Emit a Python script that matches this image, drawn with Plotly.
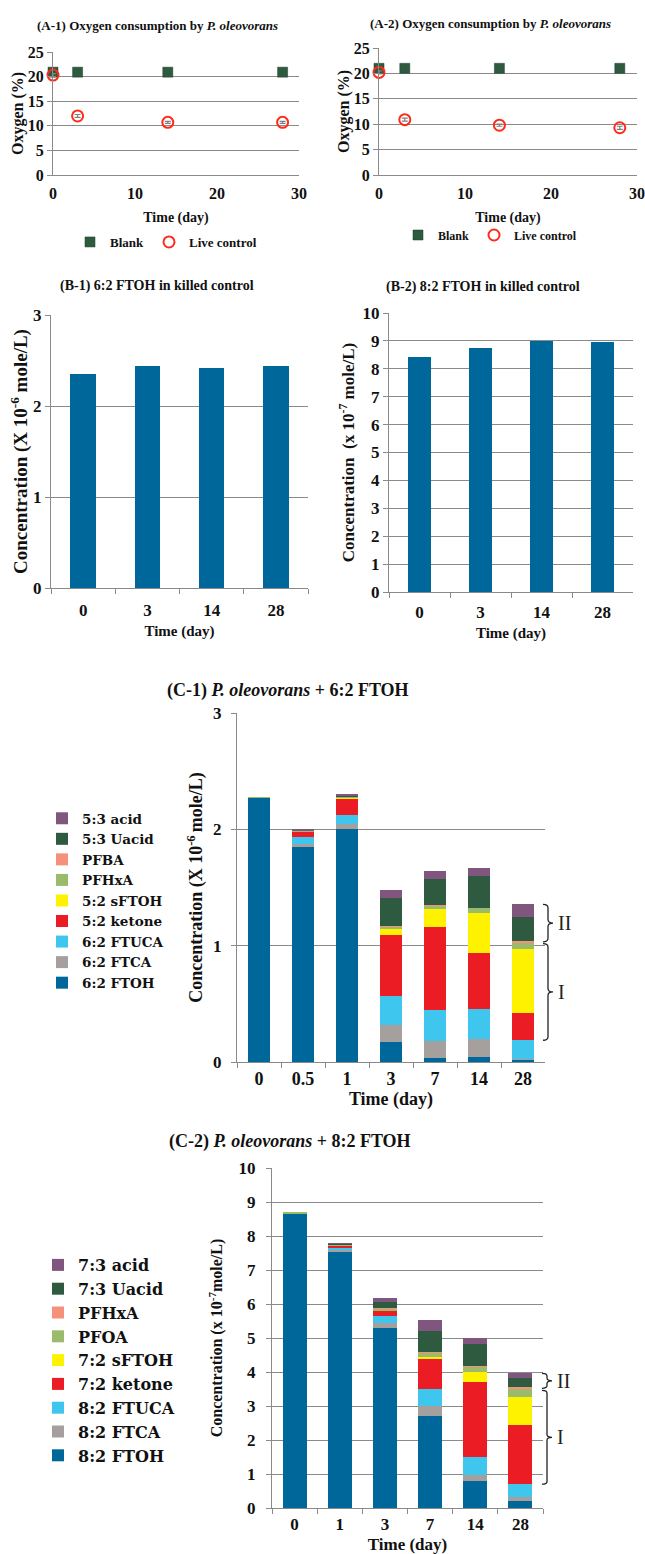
import plotly.graph_objects as go

W, H = 645, 1554

# ---------------- data ----------------
# (A) oxygen in headspace, %
days_a = [0, 3, 14, 28]
a1_blank = [20.9, 20.9, 20.9, 20.9]
a1_live = [20.3, 12.0, 10.7, 10.7]
a1_live_err = [0.3, 0.3, 0.2, 0.2]
a2_blank = [21.0, 21.0, 21.0, 21.0]
a2_live = [20.2, 10.9, 9.8, 9.3]
a2_live_err = [0.3, 0.3, 0.2, 0.3]

# (B) FTOH remaining in killed controls
days_b = ["0", "3", "14", "28"]
b1_ftoh = [2.35, 2.44, 2.415, 2.435]   # x 10^-6 mole/L
b2_ftoh = [8.43, 8.76, 9.00, 8.97]     # x 10^-7 mole/L

# (C-1) 6:2 FTOH and its products, x 10^-6 mole/L (stack order bottom -> top)
days_c1 = ["0", "0.5", "1", "3", "7", "14", "28"]
c1_names = ["6:2 FTOH", "6:2 FTCA", "6:2 FTUCA", "5:2 ketone", "5:2 sFTOH",
            "PFHxA", "PFBA", "5:3 Uacid", "5:3 acid"]
c1_ftoh = [2.270, 1.846, 2.000, 0.172, 0.037, 0.046, 0.020]
c1_ftca = [0.000, 0.032, 0.050, 0.144, 0.141, 0.152, 0.009]
c1_ftuca = [0.000, 0.052, 0.077, 0.250, 0.267, 0.258, 0.158]
c1_ketone = [0.000, 0.048, 0.138, 0.525, 0.712, 0.480, 0.238]
c1_sftoh = [0.000, 0.006, 0.012, 0.055, 0.161, 0.345, 0.548]
c1_pfhxa = [0.006, 0.004, 0.005, 0.017, 0.029, 0.043, 0.052]
c1_pfba = [0.000, 0.002, 0.002, 0.003, 0.002, 0.002, 0.014]
c1_uacid = [0.000, 0.004, 0.004, 0.247, 0.226, 0.269, 0.210]
c1_acid = [0.000, 0.006, 0.012, 0.066, 0.066, 0.069, 0.106]
c1_series = [c1_ftoh, c1_ftca, c1_ftuca, c1_ketone, c1_sftoh,
             c1_pfhxa, c1_pfba, c1_uacid, c1_acid]

# (C-2) 8:2 FTOH and its products, x 10^-7 mole/L (stack order bottom -> top)
days_c2 = ["0", "1", "3", "7", "14", "28"]
c2_names = ["8:2 FTOH", "8:2 FTCA", "8:2 FTUCA", "7:2 ketone", "7:2 sFTOH",
            "PFOA", "PFHxA", "7:3 Uacid", "7:3 acid"]
c2_ftoh = [8.65, 7.515, 5.30, 2.70, 0.80, 0.21]
c2_ftca = [0.00, 0.085, 0.13, 0.31, 0.17, 0.10]
c2_ftuca = [0.00, 0.070, 0.23, 0.50, 0.52, 0.39]
c2_ketone = [0.00, 0.050, 0.14, 0.89, 2.21, 1.75]
c2_sftoh = [0.00, 0.005, 0.02, 0.04, 0.31, 0.82]
c2_pfoa = [0.05, 0.030, 0.05, 0.13, 0.15, 0.22]
c2_pfhxa = [0.00, 0.005, 0.01, 0.01, 0.03, 0.06]
c2_uacid = [0.00, 0.010, 0.18, 0.64, 0.62, 0.27]
c2_acid = [0.00, 0.010, 0.13, 0.31, 0.19, 0.14]
c2_series = [c2_ftoh, c2_ftca, c2_ftuca, c2_ketone, c2_sftoh,
             c2_pfoa, c2_pfhxa, c2_uacid, c2_acid]

# ---------------- style ----------------
FONT = "Liberation Serif"
LEG_FONT = "DejaVu Serif"
BLUE = "#00679a"
stack_colors = ["#00679a", "#a5a09e", "#3fc6ef", "#ec1c24", "#fff200",
                "#9bbb6c", "#f5907a", "#2e5b40", "#80567f"]
GRID = "#8a8a8a"


def xd(a, b):
    return [a / W, b / W]


def yd(top, bottom):
    return [1 - bottom / H, 1 - top / H]


def px_x(v):
    return v / W


def px_y(v):
    return 1 - v / H


fig = go.Figure()

# ---- A: oxygen consumption ----
for i, (blank, live, err, lg) in enumerate(
        [(a1_blank, a1_live, a1_live_err, "legend"),
         (a2_blank, a2_live, a2_live_err, "legend2")]):
    xa = "x" if i == 0 else "x2"
    ya = "y" if i == 0 else "y2"
    fig.add_trace(go.Scatter(
        x=days_a, y=blank, mode="markers", name="Blank", xaxis=xa, yaxis=ya,
        legend=lg, cliponaxis=False,
        marker=dict(symbol="square", size=10, color="#2e5b40",
                    line=dict(width=0.5, color="#1e3a28"))))
    fig.add_trace(go.Scatter(
        x=days_a, y=live, mode="markers", name="Live control", xaxis=xa,
        yaxis=ya, legend=lg, cliponaxis=False,
        error_y=dict(type="data", array=err, color="#808080", thickness=1.2,
                     width=3),
        marker=dict(symbol="circle-open", size=11, color="#ff2a1a",
                    line=dict(width=2, color="#ff2a1a"))))

# ---- B: killed controls ----
fig.add_trace(go.Bar(x=days_b, y=b1_ftoh, xaxis="x3", yaxis="y3", width=0.4,
                     marker=dict(color=BLUE, line=dict(width=0)),
                     showlegend=False, name="6:2 FTOH"))
fig.add_trace(go.Bar(x=days_b, y=b2_ftoh, xaxis="x4", yaxis="y4", width=0.39,
                     marker=dict(color=BLUE, line=dict(width=0)),
                     showlegend=False, name="8:2 FTOH"))

# ---- C: stacked transformation products ----
for names, series, days, xa, ya, lg, wd in [
        (c1_names, c1_series, days_c1, "x5", "y5", "legend3", 0.5),
        (c2_names, c2_series, days_c2, "x6", "y6", "legend4", 0.53)]:
    for name, vals, col in zip(names, series, stack_colors):
        fig.add_trace(go.Bar(x=days, y=vals, name=name, xaxis=xa, yaxis=ya,
                             legend=lg, width=wd,
                             marker=dict(color=col, line=dict(width=0))))


# curly braces marking groups I and II on the last bar
def cum(series, n, j):
    return sum(s[j] for s in series[:n])


def brace(x0, w, y0, y1, d):
    xm = x0 + w * 0.5
    xt = x0 + w
    ym = (y0 + y1) / 2
    return (f"M {x0},{y1} Q {xm},{y1} {xm},{y1 - d} L {xm},{ym + d} "
            f"Q {xm},{ym} {xt},{ym} Q {xm},{ym} {xm},{ym - d} "
            f"L {xm},{y0 + d} Q {xm},{y0} {x0},{y0}")


shapes = []
annotations = []
for series, ya, bx, d, gap in [(c1_series, "y5", 543, 0.03, 0.008),
                               (c2_series, "y6", 542, 0.08, 0.03)]:
    j = len(series[0]) - 1
    i_lo = cum(series, 3, j)
    i_hi = cum(series, 6, j) - gap
    ii_lo = cum(series, 6, j) + gap
    ii_hi = cum(series, 9, j)
    for lo, hi, lab in [(i_lo, i_hi, "I"), (ii_lo, ii_hi, "II")]:
        shapes.append(dict(type="path", xref="paper", yref=ya,
                           path=brace(px_x(bx), px_x(10), lo, hi, d),
                           line=dict(color="#222", width=1.3)))
        annotations.append(dict(xref="paper", yref=ya, x=px_x(bx + 13),
                                y=(lo + hi) / 2, text=lab, showarrow=False,
                                xanchor="left", yanchor="middle",
                                font=dict(family=FONT, size=20, color="#222",
                                          weight="normal")))

# panel titles
titles = [
    ("(A-1) Oxygen consumption by <i>P. oleovorans</i>", 157, 25, 13),
    ("(A-2) Oxygen consumption by <i>P. oleovorans</i>", 490, 23, 13),
    ("(B-1) 6:2 FTOH in killed control", 157, 286, 14),
    ("(B-2) 8:2 FTOH in killed control", 483, 287, 14),
    ("(C-1) <i>P. oleovorans</i> + 6:2 FTOH", 288, 690, 18),
    ("(C-2) <i>P. oleovorans</i> + 8:2 FTOH", 290, 1141, 18),
]
for txt, cx, cy, fs in titles:
    annotations.append(dict(xref="paper", yref="paper", x=px_x(cx),
                            y=px_y(cy), text=f"<b>{txt}</b>", showarrow=False,
                            xanchor="center", yanchor="middle",
                            font=dict(family=FONT, size=fs, color="#111")))


def yaxis(dom, anchor, rng, dtick, title, tsize, standoff, tick_size,
          lab_off=0):
    return dict(domain=dom, anchor=anchor, range=rng, dtick=dtick,
                showgrid=True, gridcolor=GRID, gridwidth=1.2, showline=True,
                linecolor=GRID, linewidth=1.2, ticks="outside", ticklen=5,
                tickcolor=GRID, zeroline=False, automargin=False,
                fixedrange=True, ticklabelstandoff=lab_off,
                tickfont=dict(family=FONT, size=tick_size, color="#111",
                              weight="bold"),
                title=dict(text=f"<b>{title}</b>", standoff=standoff,
                           font=dict(family=FONT, size=tsize, color="#111")))


def xaxis_num(dom, anchor, standoff, lab_off):
    return dict(domain=dom, anchor=anchor, range=[0, 30], dtick=10,
                showgrid=False, showline=True, linecolor=GRID, linewidth=1.2,
                zeroline=False, ticks="", automargin=False, fixedrange=True,
                ticklabelstandoff=lab_off,
                tickfont=dict(family=FONT, size=16, color="#111",
                              weight="bold"),
                title=dict(text="<b>Time (day)</b>", standoff=standoff,
                           font=dict(family=FONT, size=14, color="#111")))


def xaxis_cat(dom, anchor, standoff, tick_size, tsize, lab_off):
    return dict(domain=dom, anchor=anchor, type="category", showgrid=False,
                showline=True, linecolor=GRID, linewidth=1.2,
                ticks="outside", ticklen=5, tickcolor=GRID,
                tickson="boundaries", automargin=False, fixedrange=True,
                ticklabelstandoff=lab_off,
                tickfont=dict(family=FONT, size=tick_size, color="#111",
                              weight="bold"),
                title=dict(text="<b>Time (day)</b>", standoff=standoff,
                           font=dict(family=FONT, size=tsize, color="#111")))


legend_common = dict(bgcolor="rgba(0,0,0,0)", itemwidth=30,
                     itemclick=False, itemdoubleclick=False)

fig.update_layout(
    width=W, height=H,
    margin=dict(l=0, r=0, t=0, b=0),
    paper_bgcolor="white", plot_bgcolor="white",
    font=dict(family=FONT, color="#111"),
    barmode="stack",
    showlegend=True,
    xaxis=xaxis_num(xd(53, 299), "y", 10, 4),
    yaxis=yaxis(yd(52, 175), "x", [0, 25], 5, "Oxygen (%)", 16, 0, 16),
    xaxis2=xaxis_num(xd(379, 637), "y2", 10, 4),
    yaxis2=yaxis(yd(48, 175), "x2", [0, 25], 5, "Oxygen (%)", 16, 0, 16),
    xaxis3=xaxis_cat(xd(51, 308), "y3", 6, 17, 15, 6),
    yaxis3=yaxis(yd(315, 588), "x3", [0, 3], 1,
                 "Concentration (X 10<sup>-6</sup> mole/L)", 19, 0, 17),
    xaxis4=xaxis_cat(xd(389, 633), "y4", 6, 17, 15, 4),
    yaxis4=yaxis(yd(313, 592), "x4", [0, 10], 1,
                 "Concentration  (x 10<sup>-7</sup> mole/L)", 17, 3, 17),
    xaxis5=xaxis_cat(xd(237, 545), "y5", 0, 18, 18, 0),
    yaxis5=yaxis(yd(713, 1062), "x5", [0, 3], 1,
                 "Concentration (X 10<sup>-6 </sup>mole/L)", 18, 5, 17, 6),
    xaxis6=xaxis_cat(xd(272, 543), "y6", 6, 17, 17, 0),
    yaxis6=yaxis(yd(1168, 1508), "x6", [0, 10], 1,
                 "Concentration (x 10<sup>-7</sup>mole/L)", 16, 11, 17, 7),
    legend=dict(legend_common, orientation="h", x=px_x(70), y=px_y(242),
                xanchor="left", yanchor="middle", traceorder="normal",
                font=dict(family=FONT, size=13, color="#111", weight="bold")),
    legend2=dict(legend_common, orientation="h", x=px_x(398), y=px_y(235),
                 xanchor="left", yanchor="middle", traceorder="normal",
                 font=dict(family=FONT, size=12, color="#111", weight="bold")),
    legend3=dict(legend_common, orientation="v", x=px_x(42), y=px_y(803),
                 xanchor="left", yanchor="top", traceorder="reversed",
                 font=dict(family=LEG_FONT, size=13.5, color="#111",
                           weight="bold")),
    legend4=dict(legend_common, orientation="v", x=px_x(38), y=px_y(1248),
                 xanchor="left", yanchor="top", traceorder="reversed",
                 font=dict(family=LEG_FONT, size=16, color="#111",
                           weight="bold")),
    shapes=shapes,
    annotations=annotations,
)

fig.write_html("out.html")
